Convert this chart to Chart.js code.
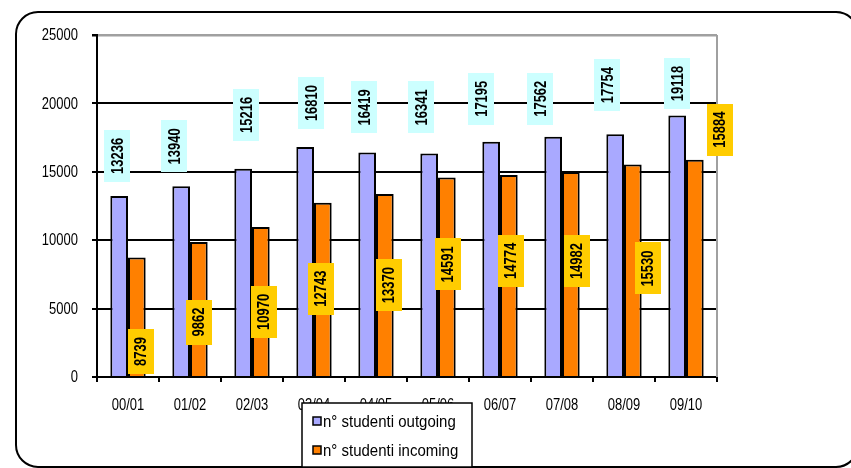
<!DOCTYPE html>
<html>
<head>
<meta charset="utf-8">
<script src="https://cdn.jsdelivr.net/npm/chart.js@4/dist/chart.umd.min.js"></script>
<style>
  html, body { margin: 0; padding: 0; background: #fff; }
  canvas { display: block; }
</style>
</head>
<body>
<canvas id="c" width="851" height="468"></canvas>
<script>
// Academic years and student counts
const years = ['00/01', '01/02', '02/03', '03/04', '04/05', '05/06', '06/07', '07/08', '08/09', '09/10'];
const outgoing = [13236, 13940, 15216, 16810, 16419, 16341, 17195, 17562, 17754, 19118];
const incoming = [8739, 9862, 10970, 12743, 13370, 14591, 14774, 14982, 15530, 15884];
const yTicks = [0, 5000, 10000, 15000, 20000, 25000];
const seriesNames = ['n° studenti outgoing', 'n° studenti incoming'];

// Value-label placement: [dx, dy] in px from the top-centre of each bar
const outLabelShift = [[-2, -40], [-7, -40], [3, -54], [6, -44], [-3, -45], [-8, -46], [-10, -43], [-13, -38], [-8, -49], [0, -32]];
const inLabelShift = [[4, 94], [0, 80], [3, 85], [-2, 86], [4, 91], [1, 87], [2, 86], [6, 89], [15, 104], [25, -30]];

const FONT = '"Liberation Sans", Arial, sans-serif';
const TEXT_STRETCH = 1.2;   // glyphs are drawn a little taller than wide
const colOut = '#A9A9FF';
const colIn = '#FF8000';
const boxOut = '#CCFFFF';
const boxIn = '#FFCC00';

function stretchedText(ctx, txt, x, y, sy) {
  ctx.save();
  ctx.translate(x, y);
  ctx.scale(1, sy);
  ctx.fillText(txt, 0, 0);
  ctx.restore();
}

// Rounded frame around the whole figure
const framePlugin = {
  id: 'frame',
  beforeDraw(chart) {
    const ctx = chart.ctx;
    ctx.save();
    ctx.fillStyle = '#fff';
    ctx.fillRect(0, 0, chart.width, chart.height);
    const x = 16, y = 12, w = 842, h = 455, r = 22;
    ctx.beginPath();
    ctx.moveTo(x + r, y);
    ctx.lineTo(x + w - r, y);
    ctx.arcTo(x + w, y, x + w, y + r, r);
    ctx.lineTo(x + w, y + h - r);
    ctx.arcTo(x + w, y + h, x + w - r, y + h, r);
    ctx.lineTo(x + r, y + h);
    ctx.arcTo(x, y + h, x, y + h - r, r);
    ctx.lineTo(x, y + r);
    ctx.arcTo(x, y, x + r, y, r);
    ctx.closePath();
    ctx.lineWidth = 2;
    ctx.strokeStyle = '#000';
    ctx.stroke();
    ctx.restore();
  }
};

// Grey right-hand edge of the plot area
const plotEdgePlugin = {
  id: 'plotEdge',
  beforeDatasetsDraw(chart) {
    const { ctx, chartArea: a } = chart;
    ctx.save();
    ctx.strokeStyle = '#a0a0a0';
    ctx.lineWidth = 2;
    ctx.beginPath();
    ctx.moveTo(a.right, a.top);
    ctx.lineTo(a.right, a.bottom);
    ctx.stroke();
    ctx.restore();
  }
};

// Axis tick labels, taken from the scales' own ticks
const tickLabelPlugin = {
  id: 'tickLabels',
  afterDraw(chart) {
    const ctx = chart.ctx;
    const xs = chart.scales.x, ys = chart.scales.y;
    ctx.save();
    ctx.fillStyle = '#000';
    ctx.font = '13px ' + FONT;
    ctx.textBaseline = 'middle';
    ctx.textAlign = 'right';
    ys.ticks.forEach((t, i) => {
      stretchedText(ctx, String(t.value), ys.left + ys.width - 19, ys.getPixelForTick(i) + 1, TEXT_STRETCH);
    });
    ctx.textAlign = 'center';
    xs.ticks.forEach((t, i) => {
      stretchedText(ctx, chart.data.labels[t.value], xs.getPixelForTick(i), xs.bottom - xs.height + 29, TEXT_STRETCH);
    });
    ctx.restore();
  }
};

// Rotated value labels on coloured boxes
const valueLabelPlugin = {
  id: 'valueLabels',
  afterDatasetsDraw(chart) {
    const ctx = chart.ctx;
    const specs = [
      { idx: 0, shift: outLabelShift, fill: boxOut },
      { idx: 1, shift: inLabelShift, fill: boxIn }
    ];
    ctx.save();
    ctx.font = 'bold 13px ' + FONT;
    for (const s of specs) {
      const meta = chart.getDatasetMeta(s.idx);
      const values = chart.data.datasets[s.idx].data;
      meta.data.forEach((bar, i) => {
        const txt = String(values[i]);
        const tw = ctx.measureText(txt).width;
        const bw = 26, bh = tw + 16;
        const cx = bar.x + s.shift[i][0];
        const cy = bar.y + s.shift[i][1];
        ctx.fillStyle = s.fill;
        ctx.fillRect(Math.round(cx - bw / 2), Math.round(cy - bh / 2), bw, Math.round(bh));
        ctx.save();
        ctx.translate(cx + 1, cy);
        ctx.rotate(-Math.PI / 2);
        ctx.scale(1, 1.25);
        ctx.fillStyle = '#000';
        ctx.textAlign = 'center';
        ctx.textBaseline = 'middle';
        ctx.fillText(txt, 0, 0);
        ctx.restore();
      });
    }
    ctx.restore();
  }
};

// Boxed legend below the category axis
const boxLegendPlugin = {
  id: 'boxLegend',
  afterDraw(chart) {
    const ctx = chart.ctx;
    const x = 302, y = 403, w = 170, h = 64;
    ctx.save();
    ctx.fillStyle = '#fff';
    ctx.fillRect(x, y, w, h);
    ctx.strokeStyle = '#000';
    ctx.lineWidth = 1.5;
    ctx.strokeRect(x, y, w, h);
    ctx.font = '15px ' + FONT;
    ctx.textBaseline = 'middle';
    chart.data.datasets.forEach((ds, i) => {
      const rowY = y + 18 + i * 29;
      ctx.fillStyle = ds.backgroundColor;
      ctx.fillRect(x + 11, rowY - 4, 8, 8);
      ctx.lineWidth = 1.5;
      ctx.strokeRect(x + 11, rowY - 4, 8, 8);
      ctx.fillStyle = '#000';
      stretchedText(ctx, ds.label, x + 21, rowY + 1, 1.1);
    });
    ctx.restore();
  }
};

new Chart(document.getElementById('c'), {
  type: 'bar',
  data: {
    labels: years,
    datasets: [
      { label: seriesNames[0], data: outgoing, backgroundColor: colOut, borderColor: '#000', borderWidth: 2 },
      { label: seriesNames[1], data: incoming, backgroundColor: colIn, borderColor: '#000', borderWidth: 2 }
    ]
  },
  options: {
    responsive: false,
    animation: false,
    devicePixelRatio: 1,
    layout: { padding: { top: 35, right: 134, bottom: 0, left: 0 } },
    datasets: { bar: { categoryPercentage: 0.57, barPercentage: 1.0 } },
    plugins: {
      legend: { display: false },
      tooltip: { enabled: false }
    },
    scales: {
      x: {
        grid: { offset: true, drawOnChartArea: false, drawTicks: true, tickLength: 5, tickColor: '#000', lineWidth: 2, color: '#000' },
        border: { display: true, color: '#000', width: 2 },
        ticks: { display: false },
        afterFit(scale) { scale.height = 91; }
      },
      y: {
        min: 0,
        max: 25000,
        afterBuildTicks(scale) { scale.ticks = yTicks.map(v => ({ value: v })); },
        grid: {
          color: c => (c.tick && c.tick.value === 25000) ? '#a0a0a0' : '#000',
          lineWidth: c => (c.tick && c.tick.value === 25000) ? 2.5 : 2,
          tickColor: '#000',
          tickLength: 5
        },
        border: { display: true, color: '#000', width: 2 },
        ticks: { display: false },
        afterFit(scale) { scale.width = 97; }
      }
    }
  },
  plugins: [framePlugin, plotEdgePlugin, valueLabelPlugin, tickLabelPlugin, boxLegendPlugin]
});
</script>
</body>
</html>
